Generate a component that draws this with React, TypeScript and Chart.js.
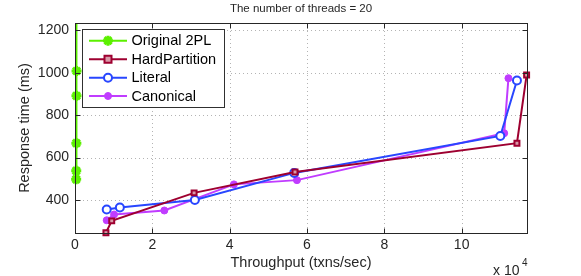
import React, { useEffect, useRef } from "react";
import { Chart, registerables } from "chart.js";

Chart.register(...registerables);

const titleText = "The number of threads = 20";
const xLabel = "Throughput (txns/sec)";
const yLabel = "Response time (ms)";
const seriesNames = ["Original 2PL", "HardPartition", "Literal", "Canonical"];

const original2plX = [300, 320, 350, 380, 400, 420];
const original2plY = [498, 538, 668, 891, 1008, 1400];

const hardPartitionX = [8000, 9500, 30800, 56900, 114300, 116800];
const hardPartitionY = [246, 302, 434, 532, 668, 989];

const literalX = [8200, 11600, 31000, 56700, 110000, 114300];
const literalY = [356, 365, 400, 528, 702, 963];

const canonicalX = [8200, 10100, 23100, 41100, 57400, 111000, 112100];
const canonicalY = [305, 332, 351, 474, 494, 715, 974];

const xTicks = [0, 20000, 40000, 60000, 80000, 100000];
const yTicks = [400, 600, 800, 1000, 1200];

const FONT = "'Liberation Sans', Arial, Helvetica, sans-serif";
const TEXT = "#262626";

const colors = ["#5cf000", "#9e0030", "#2846ff", "#c03cff"];

const pts = (xs: number[], ys: number[]) => xs.map((x, i) => ({ x, y: ys[i] }));

function drawMarker(ctx: CanvasRenderingContext2D, ds: any, x: number, y: number) {
  const r = ds.pointRadius;
  ctx.save();
  ctx.lineWidth = ds.pointBorderWidth;
  ctx.strokeStyle = ds.pointBorderColor;
  ctx.fillStyle = ds.pointBackgroundColor;
  ctx.beginPath();
  if (ds.pointStyle === "rect") {
    ctx.rect(x - r, y - r, 2 * r, 2 * r);
    ctx.fill();
    ctx.stroke();
  } else if (ds.pointStyle === "circle") {
    ctx.arc(x, y, r, 0, Math.PI * 2);
    ctx.fill();
    ctx.stroke();
  } else if (ds.pointStyle === "star") {
    for (let k = 0; k < 4; k++) {
      const ang = (k * Math.PI) / 4;
      ctx.moveTo(x - Math.cos(ang) * r, y - Math.sin(ang) * r);
      ctx.lineTo(x + Math.cos(ang) * r, y + Math.sin(ang) * r);
    }
    ctx.stroke();
  }
  ctx.restore();
}

const framePlugin = {
  id: "matlabFrame",
  beforeDatasetsDraw(chart: any) {
    const { ctx, chartArea: a, scales } = chart;
    ctx.save();
    ctx.strokeStyle = "#b4b4b4";
    ctx.lineWidth = 1;
    ctx.setLineDash([1, 3]);
    yTicks.forEach((v) => {
      const y = Math.round(scales.y.getPixelForValue(v)) + 0.5;
      ctx.beginPath();
      ctx.moveTo(a.left, y);
      ctx.lineTo(a.right, y);
      ctx.stroke();
    });
    xTicks.forEach((v) => {
      if (v === 0) return;
      const x = Math.round(scales.x.getPixelForValue(v)) + 0.5;
      ctx.beginPath();
      ctx.moveTo(x, a.top);
      ctx.lineTo(x, a.bottom);
      ctx.stroke();
    });
    ctx.restore();
  },
  afterDatasetsDraw(chart: any) {
    const { ctx, chartArea: a, scales } = chart;
    ctx.save();
    ctx.setLineDash([]);
    ctx.strokeStyle = TEXT;
    ctx.lineWidth = 1;
    const L = Math.round(a.left) + 0.5;
    const R = Math.round(a.right) + 0.5;
    const T = Math.round(a.top) + 0.5;
    const B = Math.round(a.bottom) + 0.5;
    ctx.strokeRect(L, T, R - L, B - T);
    const tl = 5;
    xTicks.forEach((v) => {
      const x = Math.round(scales.x.getPixelForValue(v)) + 0.5;
      ctx.beginPath();
      ctx.moveTo(x, B);
      ctx.lineTo(x, B - tl);
      ctx.moveTo(x, T);
      ctx.lineTo(x, T + tl);
      ctx.stroke();
    });
    yTicks.forEach((v) => {
      const y = Math.round(scales.y.getPixelForValue(v)) + 0.5;
      ctx.beginPath();
      ctx.moveTo(L, y);
      ctx.lineTo(L + tl, y);
      ctx.moveTo(R, y);
      ctx.lineTo(R - tl, y);
      ctx.stroke();
    });

    // title
    ctx.fillStyle = TEXT;
    ctx.font = `11.5px ${FONT}`;
    ctx.textAlign = "center";
    ctx.textBaseline = "middle";
    ctx.fillText(titleText, (a.left + a.right) / 2, 9);

    // exponent
    ctx.font = `14px ${FONT}`;
    ctx.textAlign = "left";
    ctx.textBaseline = "middle";
    ctx.fillText("x 10", 493, 271);
    ctx.font = `10px ${FONT}`;
    ctx.fillText("4", 522, 263);

    // legend
    const bx = 82.5, by = 29.5, bw = 142, bh = 78;
    ctx.fillStyle = "#ffffff";
    ctx.fillRect(bx, by, bw, bh);
    ctx.strokeStyle = "#303030";
    ctx.lineWidth = 1;
    ctx.strokeRect(bx, by, bw, bh);
    const rows = [40.7, 59.3, 77.7, 96];
    chart.data.datasets.forEach((ds: any, i: number) => {
      const y = rows[i];
      ctx.strokeStyle = ds.borderColor;
      ctx.lineWidth = 2;
      ctx.beginPath();
      ctx.moveTo(89, y);
      ctx.lineTo(127, y);
      ctx.stroke();
      drawMarker(ctx, ds, 108, y);
      ctx.fillStyle = "#000000";
      ctx.font = `14.5px ${FONT}`;
      ctx.textAlign = "left";
      ctx.textBaseline = "middle";
      ctx.fillText(seriesNames[i], 131.5, y + 0.5);
    });
    ctx.restore();
  },
};

export default function App() {
  const ref = useRef<HTMLCanvasElement | null>(null);
  useEffect(() => {
    if (!ref.current) return;
    const chart = new Chart(ref.current, {
      type: "scatter",
      data: {
        datasets: [
          {
            label: seriesNames[0],
            data: pts(original2plX, original2plY),
            showLine: true,
            clip: { left: 10, top: 0, right: 0, bottom: 0 },
            borderColor: colors[0],
            backgroundColor: colors[0],
            borderWidth: 2,
            pointStyle: "star",
            pointRadius: 5,
            pointBorderWidth: 3,
            pointBorderColor: colors[0],
            pointBackgroundColor: colors[0],
          },
          {
            label: seriesNames[1],
            data: pts(hardPartitionX, hardPartitionY),
            showLine: true,
            clip: false,
            borderColor: colors[1],
            backgroundColor: colors[1],
            borderWidth: 2,
            pointStyle: "rect",
            pointRadius: 3.5,
            pointBorderWidth: 2,
            pointBorderColor: colors[1],
            pointBackgroundColor: "#d89aa8",
          },
          {
            label: seriesNames[2],
            data: pts(literalX, literalY),
            showLine: true,
            clip: false,
            borderColor: colors[2],
            backgroundColor: colors[2],
            borderWidth: 2,
            pointStyle: "circle",
            pointRadius: 4,
            pointBorderWidth: 2,
            pointBorderColor: colors[2],
            pointBackgroundColor: "#ffffff",
          },
          {
            label: seriesNames[3],
            data: pts(canonicalX, canonicalY),
            showLine: true,
            clip: false,
            borderColor: colors[3],
            backgroundColor: colors[3],
            borderWidth: 2,
            pointStyle: "circle",
            pointRadius: 3.5,
            pointBorderWidth: 1,
            pointBorderColor: colors[3],
            pointBackgroundColor: colors[3],
          },
        ] as any,
      },
      options: {
        responsive: false,
        animation: false,
        layout: { padding: { top: 23, right: 54, left: 0, bottom: 0 } },
        plugins: {
          legend: { display: false },
          title: { display: false },
          tooltip: { enabled: false },
        },
        scales: {
          x: {
            type: "linear",
            min: 0,
            max: 116900,
            afterBuildTicks: (s: any) => {
              s.ticks = xTicks.map((v) => ({ value: v }));
            },
            afterFit: (s: any) => {
              s.height = 43;
            },
            grid: { display: false, drawTicks: false },
            border: { display: false },
            ticks: {
              padding: 4,
              color: TEXT,
              font: { family: FONT, size: 14 },
              maxRotation: 0,
              autoSkip: false,
              callback: (v: any) => String(Number(v) / 10000),
            },
            title: {
              display: true,
              text: xLabel,
              color: TEXT,
              font: { family: FONT, size: 14.5 },
              padding: { top: 0, bottom: 4.5 },
            },
          },
          y: {
            type: "linear",
            min: 245,
            max: 1234,
            afterBuildTicks: (s: any) => {
              s.ticks = yTicks.map((v) => ({ value: v }));
            },
            afterFit: (s: any) => {
              s.width = 75;
            },
            grid: { display: false, drawTicks: false },
            border: { display: false },
            ticks: {
              padding: 6,
              color: TEXT,
              autoSkip: false,
              font: { family: FONT, size: 14 },
              callback: (v: any) => String(v),
            },
            title: {
              display: true,
              text: yLabel,
              color: TEXT,
              font: { family: FONT, size: 14.5 },
              padding: { top: 16, bottom: 0 },
            },
          },
        },
      },
      plugins: [framePlugin],
    });
    return () => chart.destroy();
  }, []);
  return (
    <div style={{ position: "fixed", left: 0, top: 0, width: 581, height: 276, background: "#fff" }}>
      <canvas ref={ref} width={581} height={276} style={{ width: 581, height: 276 }} />
    </div>
  );
}
